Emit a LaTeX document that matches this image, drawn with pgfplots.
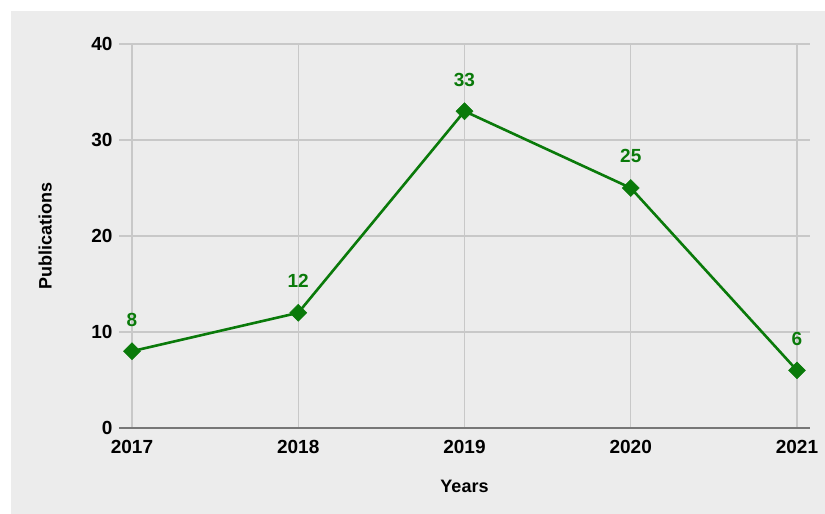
\documentclass[border=0pt]{standalone}
\usepackage{fontspec}
\setmainfont{Liberation Sans}
\usepackage{pgfplots}
\pgfplotsset{compat=1.18}
\definecolor{bg}{HTML}{ECECEC}
\definecolor{gridc}{HTML}{C8C8C8}
\definecolor{axc}{HTML}{777777}
\definecolor{lgreen}{HTML}{0A7A0A}
\begin{document}
\begin{tikzpicture}[x=1pt,y=1pt]
\useasboundingbox (0,0) rectangle (825,514);
\fill[white] (0,0) rectangle (825,514);
\fill[bg] (11,0) rectangle (825,503);
\begin{axis}[
  at={(119pt,86pt)}, anchor=south west,
  scale only axis, width=691pt, height=384pt,
  xmin=-0.0782, xmax=4.0782, ymin=0, ymax=40,
  xtick={0,1,2,3,4}, xticklabels={2017,2018,2019,2020,2021},
  ytick={0,10,20,30,40},
  major tick length=0pt,
  grid=major,
  major grid style={draw=gridc, line width=1.3pt},
  axis x line*=bottom, axis y line*=left,
  x axis line style={-, draw=axc, line width=2pt},
  y axis line style={draw=none},
  /pgf/number format/assume math mode=true,
  ticklabel style={font=\bfseries\fontsize{19}{19}\selectfont},
  yticklabel style={xshift=-3pt},
  xticklabel style={yshift=-9pt},
  xlabel={Years}, ylabel={Publications},
  label style={font=\bfseries\fontsize{18}{18}\selectfont},
  xlabel style={at={(axis description cs:0.5,-0.151)}, anchor=center},
  ylabel style={at={(axis description cs:-0.107,0.5)}, anchor=center, rotate=0},
  clip=false,
  nodes near coords,
  every node near coord/.append style={font=\bfseries\fontsize{19}{19}\selectfont, text=lgreen, anchor=base, inner sep=0pt, yshift=25pt},
]
\addplot[draw=lgreen, line width=2.6pt, mark=square*, mark size=6pt, mark options={fill=lgreen, draw=lgreen, line width=0.5pt, rotate=45}] coordinates {
(0,8) (1,12) (2,33) (3,25) (4,6)
};
\end{axis}
\end{tikzpicture}
\end{document}
